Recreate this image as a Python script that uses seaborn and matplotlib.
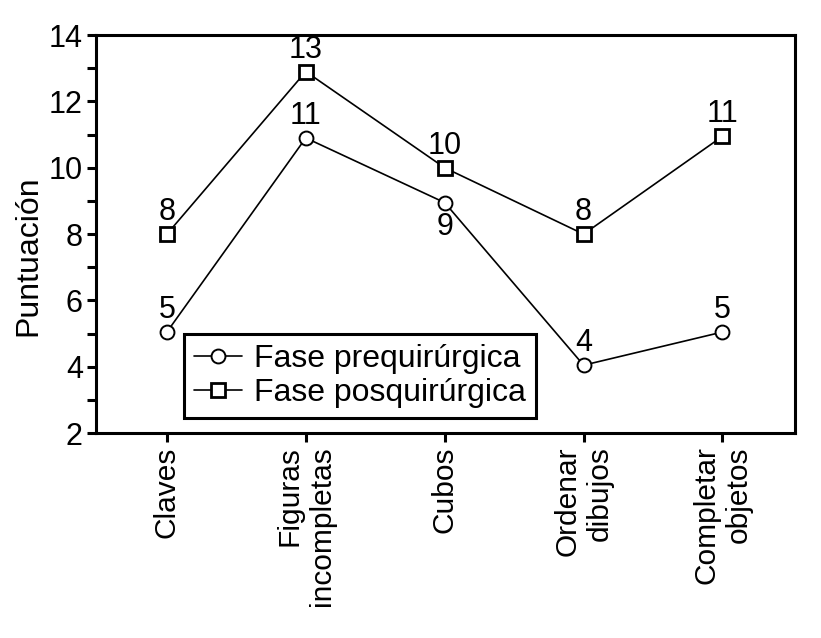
import matplotlib
matplotlib.use('Agg')
import matplotlib.pyplot as plt
import seaborn as sns
import pandas as pd

subtests = ['Claves', 'Figuras\nincompletas', 'Cubos', 'Ordenar\ndibujos', 'Completar\nobjetos']
pre = [5.05, 10.9, 8.95, 4.05, 5.05]
post = [8.0, 12.9, 10.0, 8.0, 10.95]
pre_labels = ['5', '11', '9', '4', '5']
post_labels = ['8', '13', '10', '8', '11']

sns.set_style('ticks')
plt.rcParams['font.family'] = ['Liberation Sans', 'DejaVu Sans']
plt.rcParams['text.color'] = 'black'
plt.rcParams['axes.labelcolor'] = 'black'

pos = list(range(len(subtests)))
df_pre = pd.DataFrame({'pos': pos, 'score': pre})
df_post = pd.DataFrame({'pos': pos, 'score': post})

fig, ax = plt.subplots(figsize=(8.21, 6.38), dpi=100)
fig.subplots_adjust(left=0.117, right=0.968, top=0.945, bottom=0.321)

sns.lineplot(data=df_pre, x='pos', y='score', ax=ax, color='black', linewidth=1.2,
             marker='o', markersize=10, markerfacecolor='white', markeredgecolor='black',
             markeredgewidth=1.4, label='Fase prequirúrgica')
sns.lineplot(data=df_post, x='pos', y='score', ax=ax, color='black', linewidth=1.2,
             marker='s', markersize=9.5, markerfacecolor='white', markeredgecolor='black',
             markeredgewidth=2.0, label='Fase posquirúrgica')

# etiquetas de valores
for i in pos:
    if i == 2:
        ax.annotate(pre_labels[i], (i, pre[i]), xytext=(0, -6.5), textcoords='offset points',
                    ha='center', va='top', fontsize=22)
    else:
        ax.annotate(pre_labels[i], (i, pre[i]), xytext=(0, 10), textcoords='offset points',
                    ha='center', va='baseline', fontsize=22)
    ax.annotate(post_labels[i], (i, post[i]), xytext=(0, 10), textcoords='offset points',
                ha='center', va='baseline', fontsize=22)

ax.set_xlim(-0.51, 4.52)
ax.set_ylim(2, 14)
ax.set_yticks([2, 4, 6, 8, 10, 12, 14])
ax.set_yticks([3, 5, 7, 9, 11, 13], minor=True)
ax.set_xticks(pos)
ax.set_xticklabels(subtests, rotation=90, ha='center', va='top', multialignment='right')

ax.tick_params(axis='both', which='both', direction='out', length=6.5, width=2.2,
               color='black', labelcolor='black')
ax.tick_params(axis='y', labelsize=22, pad=3)
ax.tick_params(axis='x', labelsize=21.5, pad=3)

ax.set_xlabel('')
ax.set_ylabel('Puntuación', fontsize=23)
ax.yaxis.set_label_coords(-0.076, 0.445)

for s in ax.spines.values():
    s.set_visible(True)
    s.set_linewidth(2.2)
    s.set_color('black')

leg = ax.legend(loc='lower left', bbox_to_anchor=(0.126, 0.038), borderaxespad=0,
                frameon=True, fancybox=False, edgecolor='black', framealpha=1,
                handlelength=1.5, handletextpad=0.4, fontsize=23, borderpad=0.3,
                labelspacing=0.15)
leg.get_frame().set_linewidth(2.2)

plt.savefig('out.png', dpi=100)
